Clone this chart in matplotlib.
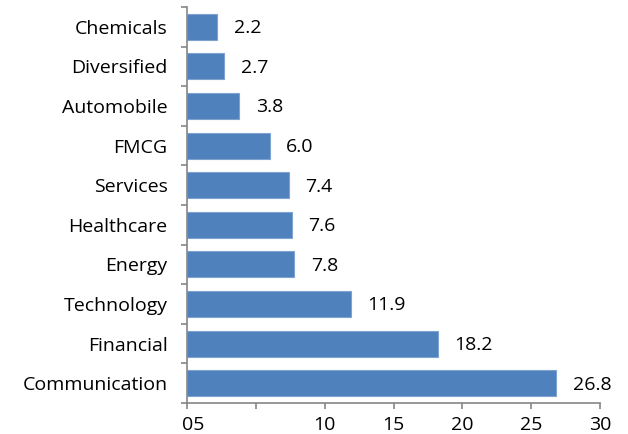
import matplotlib
matplotlib.use("Agg")
import matplotlib.pyplot as plt
import numpy as np

sectors = ["Communication", "Financial", "Technology", "Energy", "Healthcare",
           "Services", "FMCG", "Automobile", "Diversified", "Chemicals"]
weights = [26.8, 18.2, 11.9, 7.8, 7.6, 7.4, 6.0, 3.8, 2.7, 2.2]
x_ticks = [0, 5, 10, 15, 20, 25, 30]
x_tick_labels = ["05", "", "10", "15", "20", "25", "30"]

plt.rcParams['font.family'] = ['Open Sans', 'DejaVu Sans']
axis_grey = "#868686"
fs = 14
tick_len = 4
tick_pad = 5.5

fig = plt.figure(figsize=(6.28, 4.34), dpi=100)
ax = fig.add_axes([187/628, 1 - 403/434, 413/628, 396/434])

y = np.arange(len(sectors))
ax.barh(y, weights, height=0.66, color="#4F81BD", edgecolor="#7FA3D1", linewidth=0.8)

for yi, v in zip(y, weights):
    ax.annotate(f"{v:.1f}", (v, yi), xytext=(12, -1), textcoords="offset points",
                ha="left", va="center", fontsize=fs, color="black")

ax.set_xlim(0, 30)
ax.set_ylim(-0.5, len(sectors) - 0.5)
ax.set_xticks(x_ticks)
# the first tick label sits slightly right of its tick
ax.set_xticklabels([""] + x_tick_labels[1:], fontsize=fs)
ax.annotate(x_tick_labels[0], xy=(x_ticks[0], 0), xycoords=("data", "axes fraction"),
            xytext=(4.5, -(tick_len + tick_pad)), textcoords="offset points",
            ha="center", va="top", fontsize=fs, annotation_clip=False)

ax.set_yticks(y)
ax.set_yticklabels(sectors, fontsize=fs)
ax.set_yticks(np.arange(-0.5, len(sectors)), minor=True)
ax.tick_params(axis="y", which="major", length=0, pad=14)
ax.tick_params(axis="y", which="minor", length=tick_len, color=axis_grey, width=1.2, direction="out")
ax.tick_params(axis="x", which="major", length=tick_len, color=axis_grey, width=1.2,
               direction="out", pad=tick_pad)

for side in ["top", "right"]:
    ax.spines[side].set_visible(False)
for side in ["left", "bottom"]:
    ax.spines[side].set_color(axis_grey)
    ax.spines[side].set_linewidth(1.2)

fig.savefig("out.png", dpi=100)
